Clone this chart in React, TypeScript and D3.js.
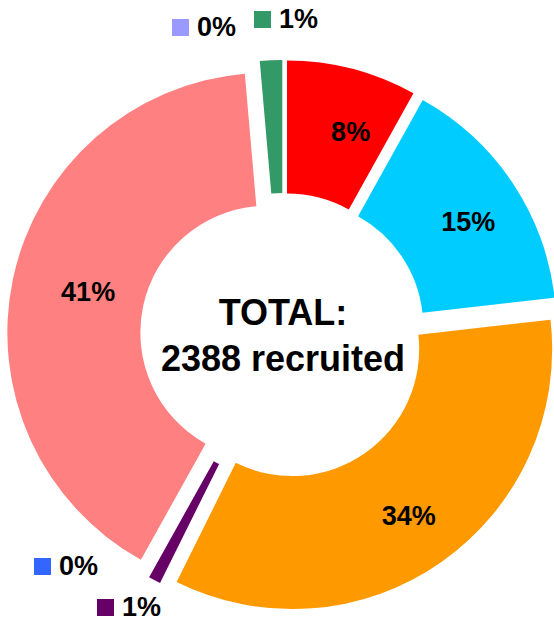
import React from 'react'
import * as d3 from 'd3'

// slices clockwise from 12 o'clock
const categories = ['A', 'B', 'C', 'D', 'E', 'F', 'G', 'H']
const counts = [193, 361, 815, 18, 0, 968, 0, 33]
const percentLabels = ['8%', '15%', '34%', '1%', '0%', '41%', '0%', '1%']
const colors = ['#ff0000', '#00ccff', '#ff9900', '#660066', '#3366ff', '#ff8080', '#9999ff', '#339966']
const totalLabel = ['TOTAL:', '2388 recruited']

// small slices get a legend-style key instead of an inside label
const keyed: Record<string, { x: number; y: number }> = {
  G: { x: 172, y: 19 },
  H: { x: 254, y: 11 },
  E: { x: 34, y: 558 },
  D: { x: 97, y: 599 },
}
// label placement tweaks (radius, angle shift in degrees)
const labelTweak: Record<string, { r: number; da: number }> = {
  A: { r: 200, da: 4 },
  B: { r: 202, da: 2 },
  C: { r: 203, da: 0 },
  F: { r: 184, da: 1 },
}

const W = 554, H = 621
const cx = 283, cy = 336
const outerR = 260, innerR = 127, explode = 16
const font = '"Liberation Sans", Arial, Helvetica, sans-serif'

export default function App() {
  const data = categories.map((c, i) => ({ cat: c, value: counts[i], label: percentLabels[i], color: colors[i] }))
  const pie = d3.pie<any>().sort(null).value(d => d.value).startAngle(0).endAngle(2 * Math.PI)
  const arcs = pie(data)
  const arc = d3.arc<any>().innerRadius(innerR).outerRadius(outerR)

  return (
    <svg width={W} height={H} style={{ position: 'absolute', left: 0, top: 0, background: '#fff' }}>
      <g transform={`translate(${cx},${cy})`}>
        {arcs.filter(a => a.value > 0).map(a => {
          const mid = (a.startAngle + a.endAngle) / 2
          const dx = explode * Math.sin(mid), dy = -explode * Math.cos(mid)
          return (
            <g key={a.data.cat} transform={`translate(${dx},${dy})`}>
              <path d={arc(a) || ''} fill={a.data.color} />
              {labelTweak[a.data.cat] && (() => {
                const t = labelTweak[a.data.cat]
                const ang = mid + (t.da * Math.PI) / 180
                return (
                  <text x={t.r * Math.sin(ang)} y={-t.r * Math.cos(ang)} dy="0.36em" textAnchor="middle"
                    fontFamily={font} fontWeight="bold" fontSize={27} fill="#000">
                    {a.data.label}
                  </text>
                )
              })()}
            </g>
          )
        })}
        <text x={0} y={-11} textAnchor="middle" fontFamily={font} fontWeight="bold" fontSize={36}>{totalLabel[0]}</text>
        <text x={0} y={35} textAnchor="middle" fontFamily={font} fontWeight="bold" fontSize={36}>{totalLabel[1]}</text>
      </g>
      {data.filter(d => keyed[d.cat]).map(d => {
        const k = keyed[d.cat]
        return (
          <g key={'k' + d.cat}>
            <rect x={k.x} y={k.y} width={17} height={17} fill={d.color} />
            <text x={k.x + 25} y={k.y + 17} fontFamily={font} fontWeight="bold" fontSize={27}>{d.label}</text>
          </g>
        )
      })}
    </svg>
  )
}
